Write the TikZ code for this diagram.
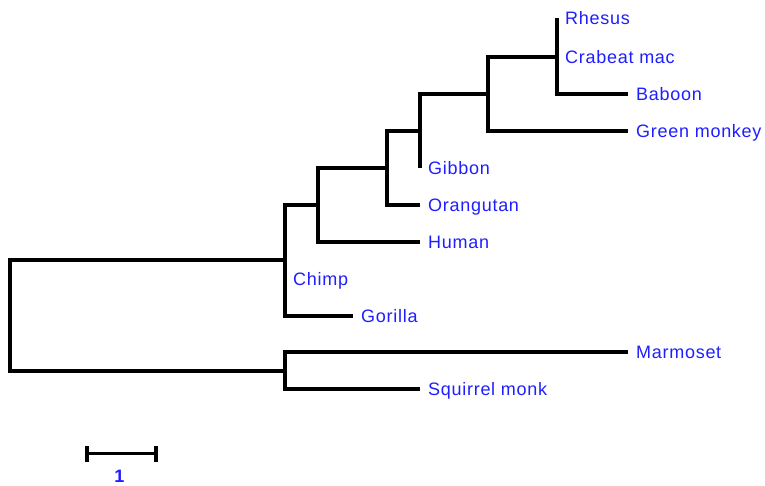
\documentclass[tikz,border=0pt]{standalone}
\usepackage{fontspec}
\setmainfont{Liberation Sans}[LetterSpace=4]
\definecolor{labblue}{RGB}{30,30,255}
\begin{document}
\begin{tikzpicture}[x=1pt,y=-1pt,
  branch/.style={line width=3.4pt,line join=miter,line cap=butt},
  lab/.style={anchor=base west,inner sep=0pt,text=labblue,font=\fontsize{18}{20}\selectfont,xshift=8pt,yshift=-6.5pt},
  scalelab/.style={anchor=base,inner sep=0pt,text=labblue,font=\fontsize{18}{20}\selectfont\bfseries}]
\useasboundingbox (0,0) rectangle (765,485);
% internal nodes (where the incoming branch attaches)
\coordinate (root) at (10,315.5);
\coordinate (nA) at (285,260);
\coordinate (nB) at (285,371);
\coordinate (n1) at (318,205);
\coordinate (n2) at (387,168);
\coordinate (n3) at (420,131);
\coordinate (n4) at (488,94);
\coordinate (n5) at (557,57);
% tips
\coordinate (rhesus) at (557,18);
\coordinate (crabeat) at (557,57);
\coordinate (baboon) at (628,94);
\coordinate (green) at (628,131);
\coordinate (gibbon) at (420,168);
\coordinate (orang) at (420,205);
\coordinate (human) at (420,242);
\coordinate (chimp) at (285,279);
\coordinate (gorilla) at (353,316);
\coordinate (marmo) at (628,352);
\coordinate (squir) at (420,389);
% branches
\draw[branch] (root) |- (nA);
\draw[branch] (root) |- (nB);
\draw[branch] (nA) |- (n1);
\draw[branch] (nA) |- (chimp);
\draw[branch] (nA) |- (gorilla);
\draw[branch] (n1) |- (n2);
\draw[branch] (n1) |- (human);
\draw[branch] (n2) |- (n3);
\draw[branch] (n2) |- (orang);
\draw[branch] (n3) |- (n4);
\draw[branch] (n3) |- (gibbon);
\draw[branch] (n4) |- (n5);
\draw[branch] (n4) |- (green);
\draw[branch] (n5) |- (rhesus);
\draw[branch] (n5) |- (baboon);
\draw[branch] (nB) |- (marmo);
\draw[branch] (nB) |- (squir);
% labels
\node[lab] (lrhesus) at (rhesus) {Rhesus};
\node[lab] (lcrabeat) at (crabeat) {Crabeat mac};
\node[lab] (lbaboon) at (baboon) {Baboon};
\node[lab] (lgreen) at (green) {Green monkey};
\node[lab] (lgibbon) at (gibbon) {Gibbon};
\node[lab] (lorang) at (orang) {Orangutan};
\node[lab] (lhuman) at (human) {Human};
\node[lab] (lchimp) at (chimp) {Chimp};
\node[lab] (lgorilla) at (gorilla) {Gorilla};
\node[lab] (lmarmo) at (marmo) {Marmoset};
\node[lab] (lsquir) at (squir) {Squirrel monk};
% scale bar
\coordinate (sbl) at (87,453.5);
\coordinate (sbr) at (156,453.5);
\draw[branch] (sbl) -- (sbr);
\draw[branch] ([yshift=7.5pt]sbl) -- ([yshift=-8pt]sbl);
\draw[branch] ([yshift=7.5pt]sbr) -- ([yshift=-8pt]sbr);
\node[scalelab] (sblab) at (119.5,482) {1};
\end{tikzpicture}
\end{document}
